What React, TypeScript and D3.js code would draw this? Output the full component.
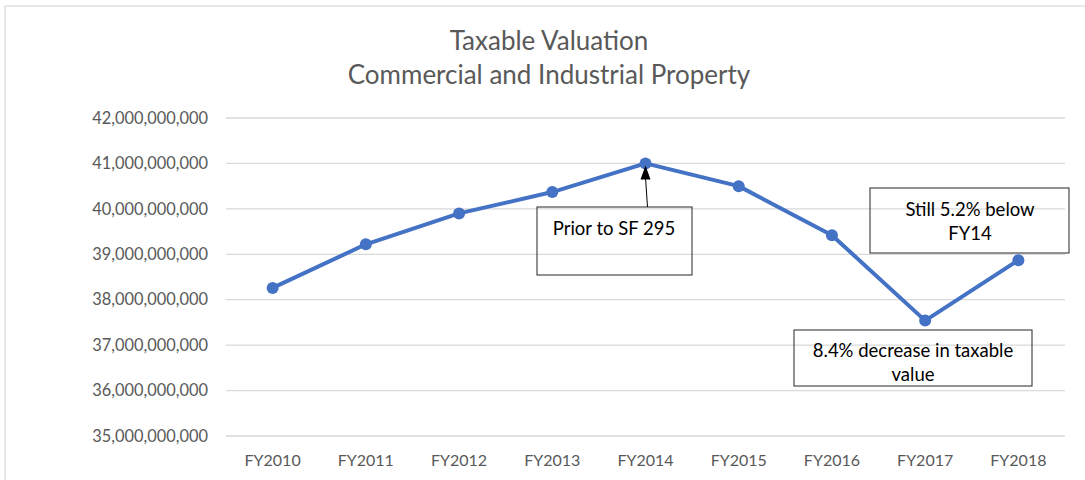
import React from "react";
import * as d3 from "d3";

const categories = ["FY2010", "FY2011", "FY2012", "FY2013", "FY2014", "FY2015", "FY2016", "FY2017", "FY2018"];
const values = [38.26e9, 39.22e9, 39.9e9, 40.37e9, 41.0e9, 40.5e9, 39.42e9, 37.54e9, 38.87e9];
const yTicks = [35e9, 36e9, 37e9, 38e9, 39e9, 40e9, 41e9, 42e9];
const titleLines = ["Taxable Valuation", "Commercial and Industrial Property"];

const W = 1085;
const H = 480;
const FONT = "Lato, 'Open Sans', sans-serif";

export default function App() {
  const x = d3.scaleBand<string>().domain(categories).range([226, 1065]);
  const y = d3.scaleLinear().domain([35e9, 42e9]).range([436, 118]);
  const fmt = d3.format(",");
  const cx = (c: string) => (x(c) ?? 0) + x.bandwidth() / 2;
  const line = d3
    .line<number>()
    .x((_, i) => cx(categories[i]))
    .y((d) => y(d));

  const peakX = cx("FY2014");
  const peakY = y(values[4]);

  return (
    <div style={{ position: "absolute", left: 0, top: 0 }}>
      <svg width={W} height={H} style={{ display: "block", background: "#fff" }}>
        <rect x={5} y={6} width={1100} height={500} fill="#fff" stroke="#d9d9d9" strokeWidth={1.2} />
        {titleLines.map((t, i) => (
          <text key={t} x={549} y={50 + i * 34} textAnchor="middle" fontFamily={FONT} fontSize={26} fill="#595959">
            {t}
          </text>
        ))}
        {yTicks.map((t) => (
          <g key={t}>
            <line x1={226} x2={1065} y1={y(t)} y2={y(t)} stroke="#d9d9d9" strokeWidth={1.3} />
            <text x={208} y={y(t)} dy="0.35em" textAnchor="end" fontFamily={FONT} fontSize={16.4} fill="#595959">
              {fmt(t)}
            </text>
          </g>
        ))}
        {categories.map((c) => (
          <text key={c} x={cx(c)} y={466} textAnchor="middle" fontFamily={FONT} fontSize={16} fill="#595959">
            {c}
          </text>
        ))}
        <path d={line(values) ?? ""} fill="none" stroke="#4472C4" strokeWidth={4} strokeLinejoin="round" />
        {values.map((v, i) => (
          <circle key={i} cx={cx(categories[i])} cy={y(v)} r={6} fill="#4472C4" />
        ))}

        {/* Annotation: Prior to SF 295 */}
        <rect x={537} y={207} width={155} height={68} fill="none" stroke="#262626" strokeWidth={1} />
        <line x1={647.5} y1={207} x2={peakX} y2={peakY + 14} stroke="#000" strokeWidth={1} />
        <polygon
          points={`${peakX},${peakY + 2} ${peakX - 5},${peakY + 16} ${peakX + 5},${peakY + 16}`}
          fill="#000"
        />
        <text x={614} y={235} textAnchor="middle" fontFamily={FONT} fontSize={18.5} fill="#000">
          Prior to SF 295
        </text>

        {/* Annotation: Still 5.2% below FY14 */}
        <rect x={870} y={188} width={199} height={65} fill="none" stroke="#262626" strokeWidth={1} />
        <text x={970} y={216} textAnchor="middle" fontFamily={FONT} fontSize={18.5} fill="#000">
          Still 5.2% below
        </text>
        <text x={970} y={240} textAnchor="middle" fontFamily={FONT} fontSize={18.5} fill="#000">
          FY14
        </text>

        {/* Annotation: 8.4% decrease */}
        <rect x={794} y={330} width={238} height={56} fill="none" stroke="#262626" strokeWidth={1} />
        <text x={913} y={357} textAnchor="middle" fontFamily={FONT} fontSize={18.5} fill="#000">
          8.4% decrease in taxable
        </text>
        <text x={913} y={381} textAnchor="middle" fontFamily={FONT} fontSize={18.5} fill="#000">
          value
        </text>
      </svg>
    </div>
  );
}
